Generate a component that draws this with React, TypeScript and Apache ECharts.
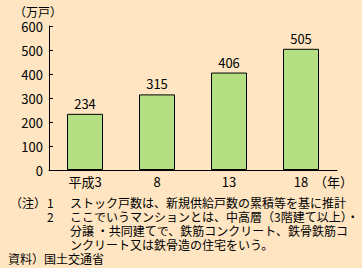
import React, { useEffect, useRef } from "react";
import * as echarts from "echarts";

const categories = ["平成3", "8", "13", "18"];
const values = [234, 315, 406, 505];
const yTicks = { min: 0, max: 600, interval: 100 };
const unitLabel = "（万戸）";
const yearLabel = "（年）";
const noteHead = "（注）";
const noteNums = ["1", "2"];
const noteLines = [
  "ストック戸数は、新規供給戸数の累積等を基に推計",
  "ここでいうマンションとは、中高層（3階建て以上）・",
  "分譲 ・共同建てで、鉄筋コンクリート、鉄骨鉄筋コ",
  "ンクリート又は鉄骨造の住宅をいう。",
];
const sourceLine = "資料）国土交通省";

const FONT = "'Noto Sans CJK JP', sans-serif";

export default function App() {
  const ref = useRef<HTMLDivElement>(null);
  useEffect(() => {
    const chart = echarts.init(ref.current!, null, { renderer: "svg" });
    const mk = (left: number, top: number, text: string, size: number) => ({
      type: "text",
      left,
      top,
      style: { text, font: `${size}px ${FONT}`, fill: "#000", lineHeight: 14 },
    });
    const graphics: any[] = [
      mk(14, 4, unitLabel, 12),
      mk(314, 174, yearLabel, 13),
      mk(10, 195, noteHead, 12),
      mk(47, 195, noteNums.join("\n"), 12),
      mk(70, 195, noteLines.join("\n"), 12),
      mk(8, 251, sourceLine, 12),
    ];

    chart.setOption({
      animation: false,
      backgroundColor: "#FFE5C1",
      textStyle: { fontFamily: FONT },
      grid: { left: 49, right: 25, top: 26, bottom: 98, containLabel: false },
      xAxis: {
        type: "category",
        data: categories,
        axisLine: { lineStyle: { color: "#000", width: 1 } },
        axisTick: { show: false },
        axisLabel: { color: "#000", fontSize: 13, margin: 5, fontFamily: FONT },
      },
      yAxis: {
        type: "value",
        min: yTicks.min,
        max: yTicks.max,
        interval: yTicks.interval,
        axisLine: { show: true, lineStyle: { color: "#000", width: 1 } },
        axisTick: { show: true, inside: true, length: 4, lineStyle: { color: "#000" } },
        splitLine: { show: false },
        axisLabel: { color: "#000", fontSize: 13, margin: 6, fontFamily: FONT },
      },
      series: [
        {
          type: "bar",
          data: values,
          barWidth: 36,
          itemStyle: { color: "#B5DF83", borderColor: "#000", borderWidth: 1 },
          label: { show: true, position: "top", distance: 4, color: "#000", fontSize: 13, fontFamily: FONT },
        },
      ],
      graphic: graphics,
    });
    return () => chart.dispose();
  }, []);
  return <div ref={ref} style={{ position: "fixed", left: 0, top: 0, width: 362, height: 268 }} />;
}
